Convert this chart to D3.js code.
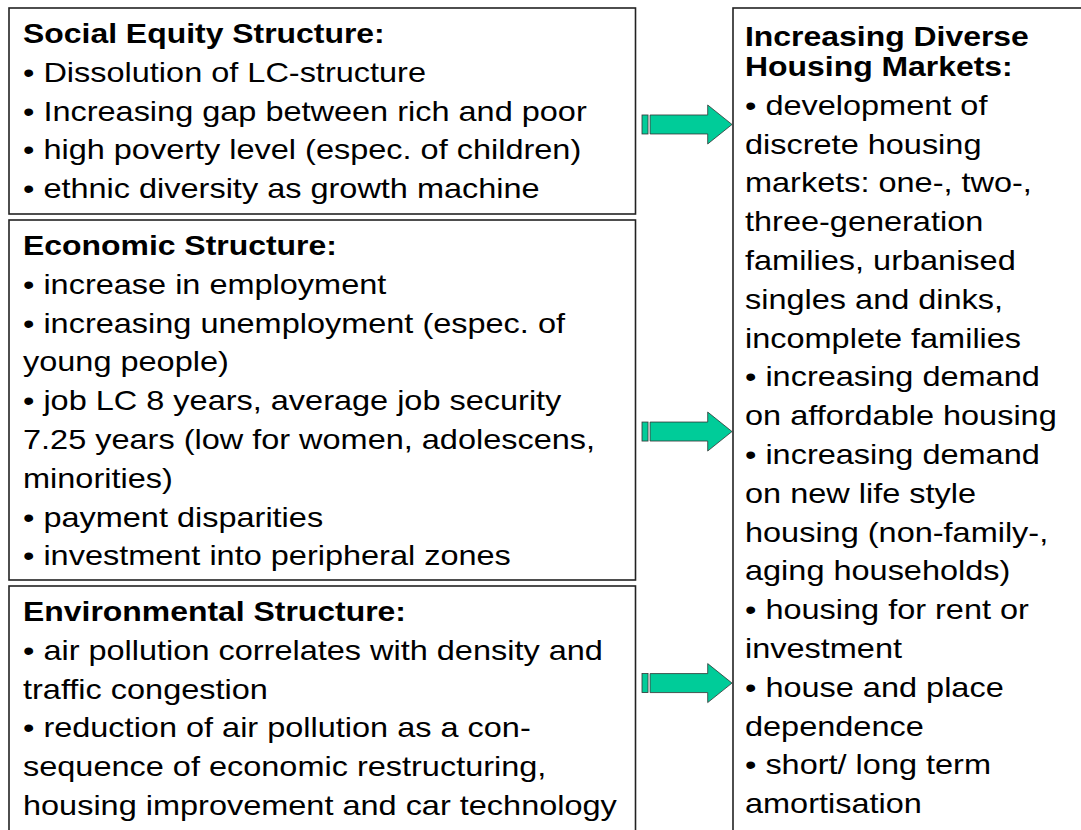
<!DOCTYPE html>
<html>
<head>
<meta charset="utf-8">
<script src="https://cdnjs.cloudflare.com/ajax/libs/d3/7.8.5/d3.min.js"></script>
<style>
  body { margin: 0; background: #fff; }
  text { font-family: "Liberation Sans", Arial, sans-serif; fill: #000; }
</style>
</head>
<body>
<script>
// box texts, line by line as in the slide
var socialTitle = "Social Equity Structure:";
var socialLines = [
  "• Dissolution of LC-structure",
  "• Increasing gap between rich and poor",
  "• high poverty level (espec. of children)",
  "• ethnic diversity as growth machine"
];
var economicTitle = "Economic Structure:";
var economicLines = [
  "• increase in employment",
  "• increasing unemployment (espec. of",
  "young people)",
  "• job LC 8 years, average job security",
  "7.25 years (low for women, adolescens,",
  "minorities)",
  "• payment disparities",
  "• investment into peripheral zones"
];
var environmentalTitle = "Environmental Structure:";
var environmentalLines = [
  "• air pollution correlates with density and",
  "traffic congestion",
  "• reduction of air pollution as a con-",
  "sequence of economic restructuring,",
  "housing improvement and car technology"
];
var housingTitle = ["Increasing Diverse", "Housing Markets:"];
var housingLines = [
  "• development of",
  "discrete housing",
  "markets: one-, two-,",
  "three-generation",
  "families, urbanised",
  "singles and dinks,",
  "incomplete families",
  "• increasing demand",
  "on affordable housing",
  "• increasing demand",
  "on new life style",
  "housing (non-family-,",
  "aging households)",
  "• housing for rent or",
  "investment",
  "• house and place",
  "dependence",
  "• short/ long term",
  "amortisation"
];
// line position (within each left box) where its arrow sits
var arrowRows = [2.1, 4.55, 1.6];

var width = 1081;
var height = 830;
var titleSize = 28;
var fontSize = 28;
var titleStretch = 1.14;   // slide text is a bit wider than plain Arial
var stretch = 1.16;
var lineGap = 38.8;

var svg = d3.select("body").append("svg")
  .attr("width", width)
  .attr("height", height);

var leftX = d3.scaleLinear().domain([0, 1]).range([9, 635.5]);
var rightX = d3.scaleLinear().domain([0, 1]).range([733, 1100]);

var leftBoxes = [
  {title: [socialTitle], lines: socialLines, top: 8, bottom: 214},
  {title: [economicTitle], lines: economicLines, top: 220, bottom: 580},
  {title: [environmentalTitle], lines: environmentalLines, top: 586, bottom: 900}
];

var drawBox = function(box, xs, textX, first, titleGap) {
  var g = svg.append("g");
  g.append("rect")
    .attr("x", xs(0))
    .attr("y", box.top)
    .attr("width", xs(1) - xs(0))
    .attr("height", box.bottom - box.top)
    .attr("fill", "none")
    .attr("stroke", "#222")
    .attr("stroke-width", 1.6);

  var titleY = d3.scaleLinear().domain([0, 1]).range([box.top + first, box.top + first + titleGap]);
  g.selectAll("text.title")
    .data(box.title)
    .enter()
    .append("text")
    .classed("title", true)
    .attr("transform", function(d, i) {
      return "translate(" + textX + "," + titleY(i) + ") scale(" + titleStretch + ",1)";
    })
    .attr("font-size", titleSize)
    .attr("font-weight", "bold")
    .text(function(d) { return d; });

  var startY = titleY(box.title.length - 1);
  var lineY = d3.scaleLinear().domain([0, 1]).range([startY, startY + lineGap]);
  g.selectAll("text.line")
    .data(box.lines)
    .enter()
    .append("text")
    .classed("line", true)
    .attr("transform", function(d, i) {
      return "translate(" + textX + "," + lineY(i + 1) + ") scale(" + stretch + ",1)";
    })
    .attr("font-size", fontSize)
    .text(function(d) { return d; });
  return lineY;
};

var arrow = d3.scaleLinear().domain([0, 1]).range([642, 732]);

leftBoxes.forEach(function(box, k) {
  var lineY = drawBox(box, leftX, 23, 35, 0);
  var cy = lineY(arrowRows[k]);
  var a = svg.append("g");
  a.append("rect")
    .attr("x", arrow(0))
    .attr("y", cy - 9.5)
    .attr("width", arrow(0.067) - arrow(0))
    .attr("height", 19)
    .attr("fill", "#00cc99")
    .attr("stroke", "#333")
    .attr("stroke-width", 0.8);
  var pts = [
    [arrow(0.09), cy - 9.5], [arrow(0.73), cy - 9.5], [arrow(0.73), cy - 19.5],
    [arrow(1), cy], [arrow(0.73), cy + 19.5], [arrow(0.73), cy + 9.5], [arrow(0.09), cy + 9.5]
  ];
  a.append("path")
    .attr("d", d3.line()(pts) + "Z")
    .attr("fill", "#00cc99")
    .attr("stroke", "#333")
    .attr("stroke-width", 0.8);
});

drawBox({title: housingTitle, lines: housingLines, top: 8, bottom: 900}, rightX, 745, 38, 30);
</script>
</body>
</html>
